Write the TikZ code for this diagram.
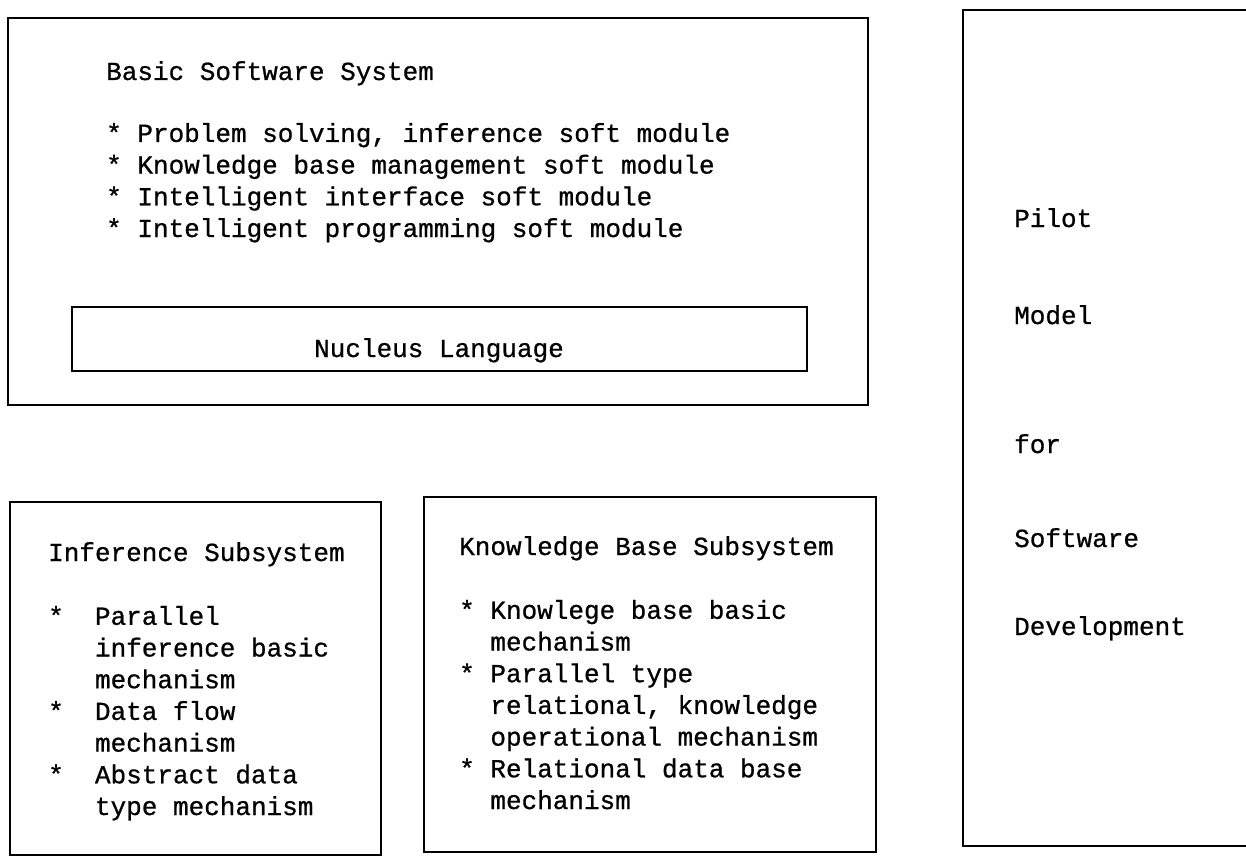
\documentclass[tikz,border=0pt]{standalone}
\usepackage{fontspec}
\newfontfamily\typew[FakeBold=0.8]{Liberation Mono}

\begin{document}
\begin{tikzpicture}
  [x=1pt,y=-1pt,
   boxN/.style={rectangle,draw,line width=2.8pt,inner sep=0pt},
   textN/.style={font=\typew\fontsize{26}{31.7}\selectfont,inner sep=0pt,
                 anchor=base west,align=left}]

  \useasboundingbox [fill=white] (0,0) rectangle (1246,856);

  % boxes
  \node at (438,211.5)  [boxN,minimum width=860,minimum height=387] (basic)     {};
  \node at (439.5,339)  [boxN,minimum width=735,minimum height=64]  (nucleus)   {};
  \node at (195.5,678.5)[boxN,minimum width=371,minimum height=353] (inference) {};
  \node at (650,674.5)  [boxN,minimum width=452,minimum height=355] (knowledge) {};
  \node at (1131.5,428) [boxN,minimum width=337,minimum height=836] (pilot)     {};

  % texts (multi-line nodes sit on the baseline of their last line)
  \node at (106,80)  [textN] (basicT) {Basic Software System};
  \node at (106,237) [textN] (basicL) {* Problem solving, inference soft module\\
                                       * Knowledge base management soft module\\
                                       * Intelligent interface soft module\\
                                       * Intelligent programming soft module};
  \node at (439,357) [textN,anchor=base] (nucleusT) {Nucleus Language};

  \node at (48,561)  [textN] (inferenceT) {Inference Subsystem};
  \node at (48,815)  [textN] (inferenceL) {*\ \ Parallel\\
                                           \phantom{*\ \ }inference basic\\
                                           \phantom{*\ \ }mechanism\\
                                           *\ \ Data flow\\
                                           \phantom{*\ \ }mechanism\\
                                           *\ \ Abstract data\\
                                           \phantom{*\ \ }type mechanism};

  \node at (459,555) [textN] (knowledgeT) {Knowledge Base Subsystem};
  \node at (459,809) [textN] (knowledgeL) {* Knowlege base basic\\
                                           \phantom{*\ }mechanism\\
                                           * Parallel type\\
                                           \phantom{*\ }relational, knowledge\\
                                           \phantom{*\ }operational mechanism\\
                                           * Relational data base\\
                                           \phantom{*\ }mechanism};

  \node at (1014,227) [textN] (pilotA) {Pilot};
  \node at (1014,324) [textN] (pilotB) {Model};
  \node at (1014,453) [textN] (pilotC) {for};
  \node at (1014,547) [textN] (pilotD) {Software};
  \node at (1014,635) [textN] (pilotE) {Development};
\end{tikzpicture}
\end{document}
